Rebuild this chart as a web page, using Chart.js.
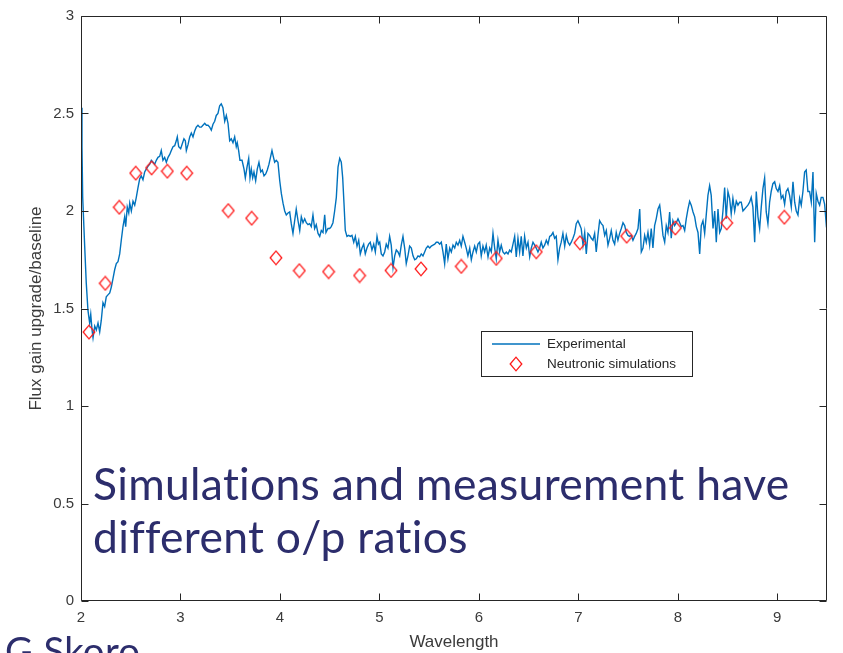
<!DOCTYPE html>
<html><head><meta charset="utf-8">
<script src="https://cdn.jsdelivr.net/npm/chart.js@4.4.1/dist/chart.umd.min.js"></script>
<style>html,body{margin:0;padding:0;background:#fff;overflow:hidden}</style>
</head><body>
<canvas id="c" width="843" height="653"></canvas>
<script>
// ---------- data ----------
const xTicks = [2, 3, 4, 5, 6, 7, 8, 9];
const yTicks = [0, 0.5, 1, 1.5, 2, 2.5, 3];

const expWavelength = [
2.000,2.010,2.017,2.037,2.053,2.070,2.087,2.098,2.111,2.121,
2.138,2.154,2.171,2.188,2.204,2.221,2.238,2.254,2.271,2.289,
2.305,2.322,2.339,2.355,2.372,2.389,2.405,2.422,2.439,2.449,
2.465,2.480,2.490,2.506,2.523,2.540,2.556,2.573,2.590,2.606,
2.623,2.640,2.656,2.674,2.691,2.707,2.724,2.741,2.757,2.774,
2.791,2.807,2.824,2.841,2.858,2.875,2.892,2.908,2.925,2.942,
2.958,2.968,2.982,3.002,3.015,3.035,3.049,3.059,3.076,3.093,
3.109,3.126,3.143,3.159,3.176,3.193,3.209,3.226,3.244,3.260,
3.277,3.294,3.310,3.327,3.344,3.360,3.377,3.394,3.410,3.427,
3.445,3.461,3.478,3.495,3.511,3.528,3.545,3.561,3.571,3.585,
3.598,3.619,3.639,3.652,3.669,3.686,3.699,3.712,3.726,3.739,
3.756,3.772,3.789,3.807,3.823,3.840,3.857,3.873,3.890,3.907,
3.920,3.933,3.947,3.963,3.980,3.998,4.014,4.031,4.048,4.064,
4.081,4.098,4.114,4.131,4.148,4.164,4.182,4.199,4.215,4.232,
4.249,4.265,4.282,4.299,4.315,4.332,4.349,4.365,4.383,4.400,
4.416,4.433,4.450,4.463,4.483,4.500,4.516,4.533,4.550,4.567,
4.584,4.601,4.617,4.631,4.644,4.657,4.674,4.691,4.707,4.724,
4.742,4.758,4.775,4.792,4.808,4.825,4.842,4.858,4.875,4.892,
4.908,4.925,4.943,4.959,4.976,4.990,5.003,5.019,5.036,5.053,
5.069,5.086,5.103,5.119,5.137,5.154,5.170,5.187,5.204,5.220,
5.237,5.254,5.270,5.287,5.304,5.321,5.338,5.355,5.371,5.388,
5.405,5.421,5.438,5.455,5.471,5.488,5.506,5.522,5.539,5.556,
5.572,5.589,5.606,5.622,5.639,5.656,5.672,5.689,5.707,5.723,
5.740,5.757,5.773,5.790,5.807,5.823,5.840,5.857,5.873,5.890,
5.908,5.924,5.941,5.958,5.974,5.991,6.008,6.024,6.041,6.058,
6.074,6.092,6.109,6.125,6.142,6.159,6.175,6.192,6.209,6.225,
6.242,6.259,6.276,6.293,6.310,6.326,6.343,6.360,6.376,6.393,
6.410,6.426,6.443,6.460,6.477,6.494,6.511,6.527,6.544,6.561,
6.577,6.594,6.611,6.627,6.644,6.661,6.678,6.695,6.712,6.728,
6.745,6.762,6.778,6.795,6.812,6.828,6.845,6.863,6.879,6.896,
6.913,6.929,6.946,6.963,6.979,6.996,7.013,7.029,7.047,7.064,
7.080,7.097,7.114,7.130,7.147,7.164,7.180,7.197,7.214,7.231,
7.248,7.265,7.281,7.298,7.315,7.331,7.348,7.365,7.381,7.398,
7.415,7.432,7.449,7.466,7.482,7.499,7.516,7.532,7.549,7.566,
7.582,7.600,7.617,7.633,7.650,7.667,7.683,7.700,7.717,7.733,
7.750,7.767,7.783,7.801,7.818,7.834,7.851,7.868,7.884,7.901,
7.918,7.934,7.951,7.968,7.985,8.002,8.019,8.035,8.052,8.069,
8.085,8.102,8.119,8.135,8.153,8.170,8.186,8.203,8.220,8.236,
8.253,8.270,8.286,8.303,8.320,8.336,8.354,8.371,8.387,8.404,
8.421,8.437,8.454,8.471,8.487,8.504,8.521,8.537,8.554,8.572,
8.588,8.605,8.622,8.638,8.655,8.672,8.688,8.705,8.722,8.738,
8.755,8.773,8.789,8.806,8.823,8.839,8.856,8.873,8.889,8.906,
8.923,8.939,8.956,8.974,8.990,9.007,9.024,9.040,9.057,9.074,
9.090,9.107,9.124,9.141,9.158,9.175,9.191,9.208,9.225,9.241,
9.258,9.275,9.291,9.308,9.325,9.342,9.359,9.376,9.392,9.409,
9.426,9.442,9.459,9.476,9.492,9.500
];

const expGain = [
2.53,2.33,2.07,1.82,1.63,1.49,1.425,1.47,1.39,1.35,
1.41,1.39,1.425,1.38,1.44,1.53,1.51,1.56,1.57,1.58,
1.61,1.655,1.70,1.73,1.74,1.78,1.85,1.92,1.97,1.92,
2.02,1.99,2.04,2.00,2.05,2.03,2.07,2.12,2.165,2.18,
2.16,2.20,2.215,2.23,2.24,2.26,2.25,2.24,2.26,2.275,
2.28,2.31,2.26,2.275,2.25,2.275,2.29,2.31,2.33,2.335,
2.36,2.38,2.33,2.32,2.34,2.37,2.36,2.31,2.34,2.38,
2.40,2.38,2.41,2.43,2.44,2.43,2.43,2.44,2.45,2.44,
2.44,2.43,2.415,2.445,2.46,2.49,2.50,2.54,2.55,2.53,
2.46,2.49,2.45,2.36,2.37,2.35,2.38,2.33,2.35,2.31,
2.26,2.26,2.215,2.17,2.225,2.27,2.17,2.215,2.17,2.20,
2.155,2.215,2.25,2.20,2.21,2.18,2.19,2.21,2.24,2.28,
2.31,2.28,2.25,2.26,2.25,2.155,2.09,2.04,2.00,1.98,
1.99,1.995,1.935,1.885,1.95,2.01,1.95,1.90,1.97,1.94,
1.96,1.94,1.93,1.935,1.92,1.98,1.91,1.93,1.885,1.87,
1.90,1.89,1.98,1.89,1.91,1.91,1.92,1.94,2.00,2.07,
2.225,2.27,2.25,2.17,2.04,1.90,1.87,1.875,1.87,1.875,
1.84,1.87,1.82,1.85,1.78,1.81,1.83,1.78,1.81,1.83,
1.84,1.80,1.83,1.79,1.87,1.83,1.84,1.78,1.77,1.79,
1.83,1.81,1.87,1.825,1.71,1.77,1.80,1.79,1.77,1.825,
1.87,1.81,1.73,1.77,1.82,1.81,1.77,1.75,1.755,1.77,
1.765,1.78,1.77,1.79,1.81,1.82,1.81,1.82,1.825,1.83,
1.84,1.84,1.83,1.84,1.79,1.73,1.83,1.755,1.81,1.79,
1.825,1.81,1.84,1.825,1.85,1.82,1.87,1.84,1.81,1.77,
1.81,1.75,1.79,1.82,1.79,1.83,1.84,1.77,1.82,1.79,
1.825,1.765,1.81,1.79,1.885,1.81,1.755,1.85,1.79,1.825,
1.79,1.78,1.79,1.78,1.80,1.79,1.83,1.87,1.765,1.86,
1.79,1.87,1.77,1.87,1.81,1.84,1.765,1.81,1.84,1.825,
1.81,1.79,1.81,1.84,1.81,1.825,1.85,1.83,1.87,1.875,
1.89,1.86,1.87,1.75,1.81,1.84,1.885,1.82,1.875,1.84,
1.825,1.84,1.86,1.885,1.935,1.95,1.93,1.91,1.825,1.89,
1.78,1.885,1.875,1.86,1.85,1.885,1.79,1.875,1.95,1.935,
1.925,1.875,1.90,1.825,1.86,1.90,1.85,1.83,1.89,1.85,
1.885,1.91,1.94,1.925,1.89,1.875,1.87,1.875,1.85,1.87,
1.885,1.91,2.01,1.79,1.81,1.875,1.84,1.89,1.825,1.91,
1.81,1.925,1.96,2.01,2.03,1.96,1.875,1.84,1.925,1.89,
1.995,1.86,1.95,1.925,1.94,1.96,1.94,1.92,1.925,1.90,
1.96,2.01,2.05,2.03,1.995,1.97,1.92,1.89,1.78,1.925,
1.95,1.885,1.98,2.08,2.13,2.08,1.91,2.00,1.84,2.01,
1.89,1.91,2.00,2.12,1.96,2.10,2.065,1.985,2.065,2.00,
2.05,2.03,2.045,2.045,2.00,2.01,2.02,2.03,2.045,2.07,
2.02,1.84,2.10,1.97,1.91,2.02,2.115,2.17,1.995,1.935,
2.045,2.10,2.14,2.15,2.115,2.10,2.13,2.065,2.08,2.035,
2.10,2.115,2.08,2.02,2.15,2.045,2.00,1.98,2.065,2.03,
2.10,2.20,2.21,2.10,2.10,2.045,2.20,1.84,2.09,2.05,
2.03,2.07,2.07,2.035,1.935,1.95
];

const simWavelength = [2.08,2.244,2.385,2.55,2.71,2.868,3.063,3.481,3.716,3.96,4.195,4.489,4.801,5.117,5.418,5.823,6.175,6.577,7.016,7.486,7.975,8.492,9.071];
const simGain = [1.379,1.629,2.019,2.194,2.221,2.204,2.194,2.002,1.963,1.760,1.694,1.689,1.669,1.695,1.703,1.716,1.757,1.791,1.837,1.871,1.913,1.939,1.968];

const seriesLabels = ['Experimental', 'Neutronic simulations'];
const xTitle = 'Wavelength';
const yTitle = 'Flux gain upgrade/baseline';
const noteLines = ['Simulations and measurement have', 'different o/p ratios'];
const authorText = 'G Skoro';

// ---------- styles ----------
const AXIS = '#262626';
const TICKTXT = '#3a3a3a';
const FONT = "'Liberation Sans', Arial, Helvetica, sans-serif";
const BLUE = '#0072BD';
const RED = '#FF1a1a';
const NAVY = '#2c2d6c';

// tall open diamond marker
function makeDiamond() {
  const c = document.createElement('canvas');
  c.width = 14; c.height = 16;
  const g = c.getContext('2d');
  g.strokeStyle = RED; g.lineWidth = 1.3;
  g.beginPath();
  g.moveTo(1.2, 8); g.lineTo(7, 1.2); g.lineTo(12.8, 8); g.lineTo(7, 14.8); g.closePath();
  g.stroke();
  return c;
}
const diamond = makeDiamond();

const expPoints = expWavelength.map((x, i) => ({x, y: expGain[i]}));
const simPoints = simWavelength.map((x, i) => ({x, y: simGain[i]}));

const decorPlugin = {
  id: 'decor',
  beforeDraw(chart) {
    const ctx = chart.ctx;
    ctx.save(); ctx.fillStyle = '#fff'; ctx.fillRect(0, 0, chart.width, chart.height); ctx.restore();
  },
  afterDatasetsDraw(chart) {
    const {ctx, chartArea: a, scales: {x, y}} = chart;
    const L = Math.round(a.left) + 0.5, R = Math.round(a.right) - 0.5;
    const T = Math.round(a.top) + 0.5, B = Math.round(a.bottom) - 0.5;
    ctx.save();
    ctx.strokeStyle = AXIS; ctx.lineWidth = 1;
    ctx.beginPath();
    ctx.rect(L, T, R - L, B - T);
    const tl = 7;
    xTicks.forEach(v => {
      const px = Math.round(x.getPixelForValue(v)) + 0.5;
      ctx.moveTo(px, B); ctx.lineTo(px, B - tl);
      ctx.moveTo(px, T); ctx.lineTo(px, T + tl);
    });
    yTicks.forEach(v => {
      const py = Math.round(y.getPixelForValue(v)) + 0.5;
      ctx.moveTo(L, py); ctx.lineTo(L + tl, py);
      ctx.moveTo(R, py); ctx.lineTo(R - tl, py);
    });
    ctx.stroke();

    // legend
    const ds = chart.data.datasets;
    const lx = 481.5, ly = 331.5, lw = 211, lh = 45;
    ctx.fillStyle = '#fff';
    ctx.fillRect(lx, ly, lw, lh);
    ctx.strokeStyle = AXIS; ctx.lineWidth = 1;
    ctx.strokeRect(lx, ly, lw, lh);
    ctx.strokeStyle = ds[0].borderColor; ctx.lineWidth = ds[0].borderWidth;
    ctx.beginPath(); ctx.moveTo(492, 344); ctx.lineTo(540, 344); ctx.stroke();
    ctx.drawImage(diamond, 516 - diamond.width / 2, 364 - diamond.height / 2);
    ctx.fillStyle = AXIS;
    ctx.font = '13.5px ' + FONT;
    ctx.textBaseline = 'middle'; ctx.textAlign = 'left';
    ctx.fillText(ds[0].label, 547, 344);
    ctx.fillText(ds[1].label, 547, 364);
    ctx.restore();
  },
  afterDraw(chart) {
    const ctx = chart.ctx;
    ctx.save();
    ctx.fillStyle = NAVY;
    ctx.textAlign = 'left'; ctx.textBaseline = 'alphabetic';
    if ('letterSpacing' in ctx) ctx.letterSpacing = '0.3px';
    const fam = "Lato, 'Open Sans', sans-serif";
    ctx.font = '48px ' + fam;
    const w = ctx.measureText(noteLines[0]).width;
    const size = 48 * 696 / w;
    ctx.font = size.toFixed(2) + 'px ' + fam;
    ctx.fillText(noteLines[0], 93, 500);
    ctx.fillText(noteLines[1], 93, 553);
    ctx.font = '48px ' + fam;
    const w2 = ctx.measureText(authorText).width;
    ctx.font = (48 * 135 / w2).toFixed(2) + 'px ' + fam;
    ctx.fillText(authorText, 5, 665);
    ctx.restore();
  }
};

new Chart(document.getElementById('c'), {
  type: 'scatter',
  data: {
    datasets: [
      {
        label: seriesLabels[0], data: expPoints, showLine: true,
        borderColor: BLUE, borderWidth: 1.4, pointRadius: 0, tension: 0, order: 2
      },
      {
        label: seriesLabels[1], data: simPoints, showLine: false,
        pointStyle: diamond, pointRadius: 6, order: 1
      }
    ]
  },
  options: {
    responsive: false, animation: false, devicePixelRatio: 1,
    layout: {padding: {left: 0, right: 16, top: 13, bottom: 0}},
    plugins: {legend: {display: false}, tooltip: {enabled: false}},
    scales: {
      x: {
        type: 'linear', min: 2, max: 9.5,
        afterBuildTicks(s) { s.ticks = xTicks.map(v => ({value: v})); },
        afterFit(s) { s.height = 52; },
        grid: {display: false, drawTicks: false, tickLength: 0},
        border: {display: false},
        ticks: {padding: 8, color: TICKTXT, font: {family: FONT, size: 15}, maxRotation: 0, autoSkip: false, callback: v => String(v)},
        title: {display: true, text: xTitle, color: TICKTXT, font: {family: FONT, size: 17}, padding: {top: 0, bottom: 0}}
      },
      y: {
        type: 'linear', min: 0, max: 3,
        afterBuildTicks(s) { s.ticks = yTicks.map(v => ({value: v})); },
        afterFit(s) { s.width = 81; },
        grid: {display: false, drawTicks: false, tickLength: 0},
        border: {display: false},
        ticks: {padding: 7, color: TICKTXT, font: {family: FONT, size: 15}, autoSkip: false, callback: v => String(v)},
        title: {display: true, text: yTitle, color: TICKTXT, font: {family: FONT, size: 17}, padding: {top: 26, bottom: 0}}
      }
    }
  },
  plugins: [decorPlugin]
});
</script>
</body></html>
